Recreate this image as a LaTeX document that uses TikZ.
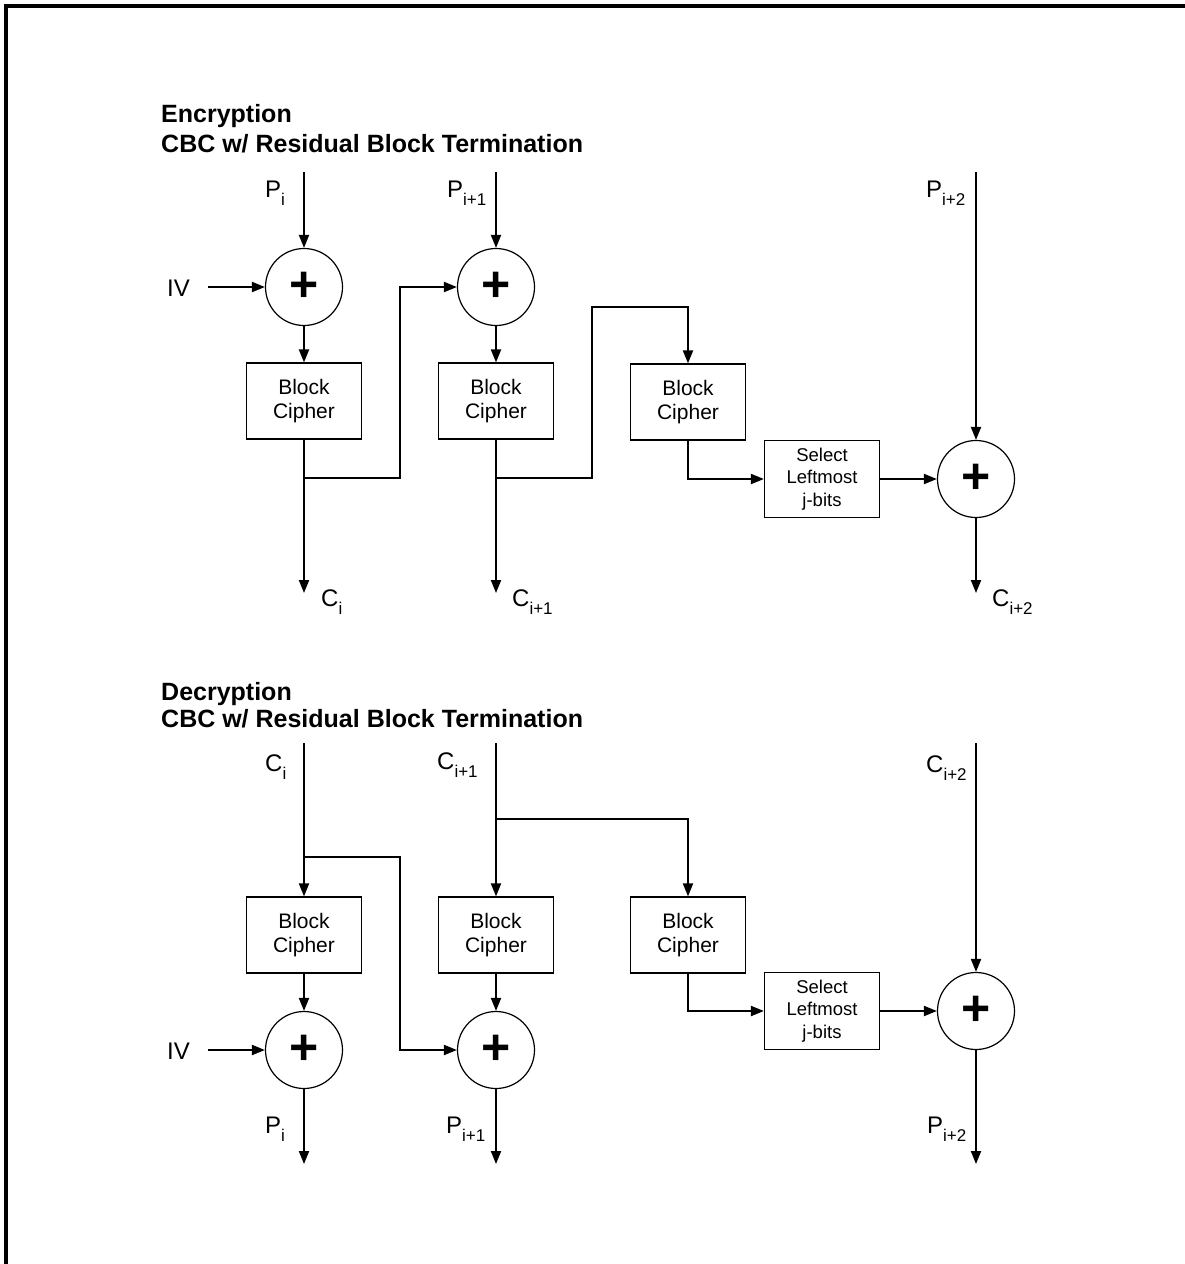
\documentclass[tikz,border=0pt]{standalone}
\usepackage{fontspec}
\setmainfont{Liberation Sans}
\usetikzlibrary{arrows.meta}
\newcommand{\sbs}[1]{\raisebox{-8pt}{\fontsize{17}{17}\selectfont #1}}
\tikzset{
  conn/.style={line width=2pt},
  arr/.style={conn, -{Triangle[length=13pt,width=10pt]}},
  xor/.style={circle, draw, line width=1.2pt, minimum size=77pt, inner sep=0pt,
    font=\fontsize{50}{50}\selectfont\bfseries},
  bc/.style={rectangle, draw, line width=1.2pt, minimum width=115pt, minimum height=76pt,
    inner sep=0pt, align=center, font=\fontsize{21}{24.5}\selectfont},
  selbox/.style={rectangle, draw, line width=1.2pt, minimum width=115pt, minimum height=77pt,
    inner sep=0pt, align=center, font=\fontsize{18.5}{22.5}\selectfont},
  lbl/.style={anchor=base west, inner sep=0pt, font=\fontsize{24}{28}\selectfont},
  ttl/.style={anchor=base west, inner sep=0pt, font=\fontsize{25}{30}\selectfont\bfseries},
}
\begin{document}
\begin{tikzpicture}[x=1pt,y=-1pt]
\useasboundingbox (0,0) rectangle (1185,1264);
% frame
\draw[line width=3.5pt] (6,1264) -- (6,6) -- (1185,6);

% ================= Encryption =================
\node[ttl] (t1) at (161,122) {Encryption};
\node[ttl] (t2) at (161,152) {CBC w/ Residual Block Termination};

\node[xor] (x1) at (304,287) {+};
\node[xor] (x2) at (496,287) {+};
\node[xor] (x3) at (976,479) {+};
\node[bc] (b1) at (304,401) {Block\\Cipher};
\node[bc] (b2) at (496,401) {Block\\Cipher};
\node[bc] (b3) at (688,402) {Block\\Cipher};
\node[selbox] (s1) at (822,479) {Select\\Leftmost\\j-bits};

\coordinate (pi0) at (304,172);
\coordinate (pi1) at (496,172);
\coordinate (pi2) at (976,172);
\coordinate (iv1) at (208,287);
\coordinate (co0) at (304,593);
\coordinate (co1) at (496,593);
\coordinate (co2) at (976,593);
\coordinate (j1) at (304,478);
\coordinate (j1a) at (400,478);
\coordinate (j1b) at (400,287);
\coordinate (j2) at (496,478);
\coordinate (j2a) at (592,478);
\coordinate (j2b) at (592,307);
\coordinate (j2c) at (688,307);
\coordinate (j3) at (688,479);

\node[lbl] (lP0) at (265,197) {P\sbs{i}};
\node[lbl] (lP1) at (447,197) {P\sbs{i+1}};
\node[lbl] (lP2) at (926,197) {P\sbs{i+2}};
\node[lbl] (lIV1) at (167,296) {IV};
\node[lbl] (lC0) at (321,606) {C\sbs{i}};
\node[lbl] (lC1) at (512,606) {C\sbs{i+1}};
\node[lbl] (lC2) at (992,606) {C\sbs{i+2}};

\draw[arr] (pi0) -- (x1.north);
\draw[arr] (pi1) -- (x2.north);
\draw[arr] (pi2) -- (x3.north);
\draw[arr] (iv1) -- (x1.west);
\draw[arr] (x1.south) -- (b1.north);
\draw[arr] (x2.south) -- (b2.north);
\draw[arr] (b1.south) -- (co0);
\draw[arr] (b2.south) -- (co1);
\draw[arr] (j1) -- (j1a) -- (j1b) -- (x2.west);
\draw[arr] (j2) -- (j2a) -- (j2b) -- (j2c) -- (b3.north);
\draw[arr] (b3.south) -- (j3) -- (s1.west);
\draw[arr] (s1.east) -- (x3.west);
\draw[arr] (x3.south) -- (co2);

% ================= Decryption =================
\node[ttl] (t3) at (161,700) {Decryption};
\node[ttl] (t4) at (161,727) {CBC w/ Residual Block Termination};

\node[bc] (d1) at (304,935) {Block\\Cipher};
\node[bc] (d2) at (496,935) {Block\\Cipher};
\node[bc] (d3) at (688,935) {Block\\Cipher};
\node[xor] (dx1) at (304,1050) {+};
\node[xor] (dx2) at (496,1050) {+};
\node[xor] (dx3) at (976,1011) {+};
\node[selbox] (s2) at (822,1011) {Select\\Leftmost\\j-bits};

\coordinate (ci0) at (304,743);
\coordinate (ci1) at (496,743);
\coordinate (ci2) at (976,743);
\coordinate (iv2) at (208,1050);
\coordinate (po0) at (304,1164);
\coordinate (po1) at (496,1164);
\coordinate (po2) at (976,1164);
\coordinate (k1) at (304,857);
\coordinate (k1a) at (400,857);
\coordinate (k1b) at (400,1050);
\coordinate (k2) at (496,819);
\coordinate (k2a) at (688,819);
\coordinate (k3) at (688,1011);

\node[lbl] (lC0d) at (265,771) {C\sbs{i}};
\node[lbl] (lC1d) at (437,769) {C\sbs{i+1}};
\node[lbl] (lC2d) at (926,772) {C\sbs{i+2}};
\node[lbl] (lIV2) at (167,1059) {IV};
\node[lbl] (lP0d) at (265,1133) {P\sbs{i}};
\node[lbl] (lP1d) at (446,1133) {P\sbs{i+1}};
\node[lbl] (lP2d) at (927,1133) {P\sbs{i+2}};

\draw[arr] (ci0) -- (d1.north);
\draw[arr] (ci1) -- (d2.north);
\draw[arr] (ci2) -- (dx3.north);
\draw[arr] (k1) -- (k1a) -- (k1b) -- (dx2.west);
\draw[arr] (k2) -- (k2a) -- (d3.north);
\draw[arr] (d1.south) -- (dx1.north);
\draw[arr] (d2.south) -- (dx2.north);
\draw[arr] (iv2) -- (dx1.west);
\draw[arr] (d3.south) -- (k3) -- (s2.west);
\draw[arr] (s2.east) -- (dx3.west);
\draw[arr] (dx1.south) -- (po0);
\draw[arr] (dx2.south) -- (po1);
\draw[arr] (dx3.south) -- (po2);
\end{tikzpicture}
\end{document}
